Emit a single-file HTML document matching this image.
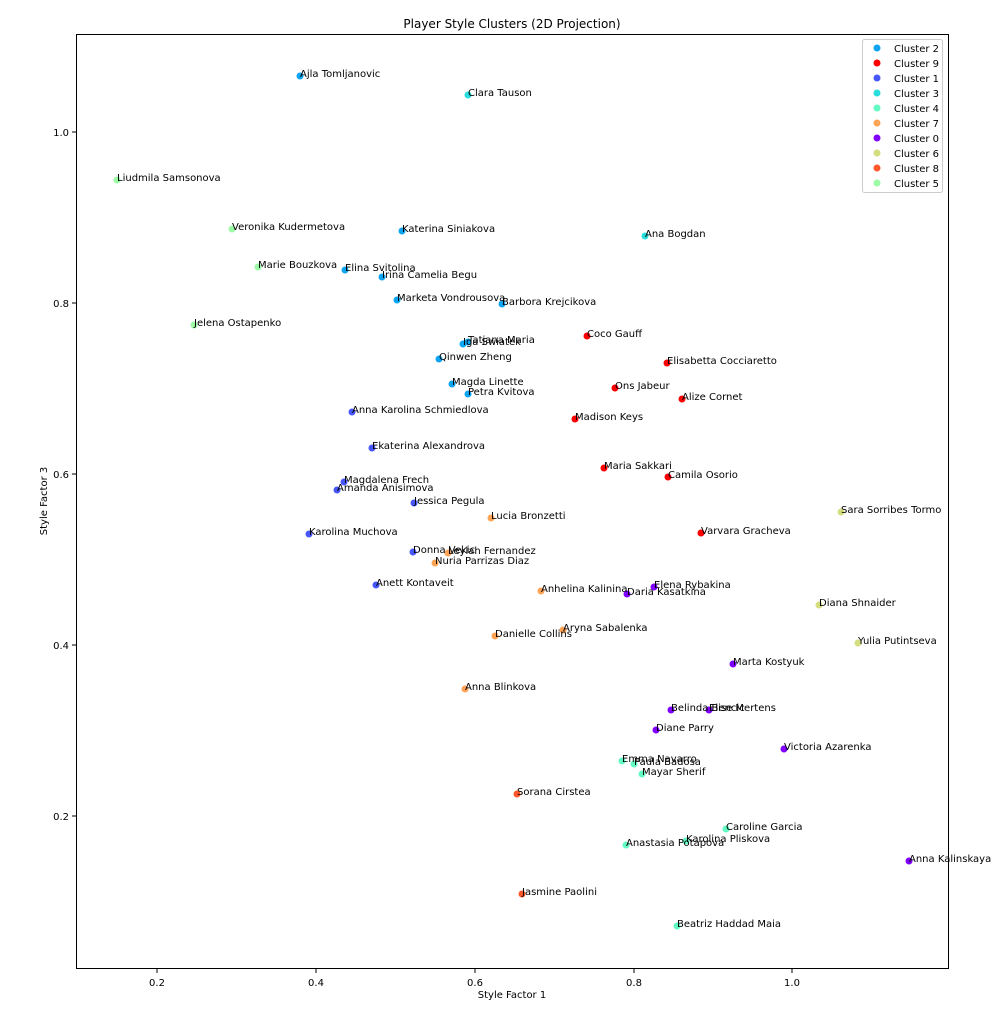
<!DOCTYPE html>
<html><head><meta charset="utf-8"><style>body{margin:0;background:#fff}svg text{font-family:"DejaVu Sans","Liberation Sans",sans-serif}</style></head><body>
<svg width="1000" height="1012" xmlns="http://www.w3.org/2000/svg">
<rect width="1000" height="1012" fill="#fff"/>
<text x="512" y="28" font-size="12" text-anchor="middle">Player Style Clusters (2D Projection)</text>
<rect x="76.5" y="34.5" width="872" height="934" fill="none" stroke="#000" stroke-width="1"/>
<g stroke="#000" stroke-width="1">
<line x1="157" y1="969" x2="157" y2="973"/><line x1="316" y1="969" x2="316" y2="973"/><line x1="475" y1="969" x2="475" y2="973"/><line x1="634" y1="969" x2="634" y2="973"/><line x1="792" y1="969" x2="792" y2="973"/>
<line x1="72" y1="132" x2="76" y2="132"/><line x1="72" y1="303" x2="76" y2="303"/><line x1="72" y1="474" x2="76" y2="474"/><line x1="72" y1="645" x2="76" y2="645"/><line x1="72" y1="816" x2="76" y2="816"/>
</g>
<g font-size="10" text-anchor="middle">
<text x="157" y="986">0.2</text><text x="316" y="986">0.4</text><text x="475" y="986">0.6</text><text x="634" y="986">0.8</text><text x="792" y="986">1.0</text>
<text x="512" y="998">Style Factor 1</text>
</g>
<g font-size="10" text-anchor="end">
<text x="69" y="136">1.0</text><text x="69" y="307">0.8</text><text x="69" y="478">0.6</text><text x="69" y="649">0.4</text><text x="69" y="820">0.2</text>
</g>
<text x="0" y="0" font-size="10" text-anchor="middle" transform="translate(47,501) rotate(-90)">Style Factor 3</text>
<g id="pts">
<circle cx="300" cy="76" r="3.5" fill="#0ea4f0"/>
<circle cx="468" cy="95" r="3.5" fill="#2adddd"/>
<circle cx="117" cy="180" r="3.5" fill="#9cfba4"/>
<circle cx="232" cy="229" r="3.5" fill="#9cfba4"/>
<circle cx="402" cy="231" r="3.5" fill="#0ea4f0"/>
<circle cx="645" cy="236" r="3.5" fill="#2adddd"/>
<circle cx="258" cy="267" r="3.5" fill="#9cfba4"/>
<circle cx="345" cy="270" r="3.5" fill="#0ea4f0"/>
<circle cx="382" cy="277" r="3.5" fill="#0ea4f0"/>
<circle cx="397" cy="300" r="3.5" fill="#0ea4f0"/>
<circle cx="502" cy="304" r="3.5" fill="#0ea4f0"/>
<circle cx="194" cy="325" r="3.5" fill="#9cfba4"/>
<circle cx="587" cy="336" r="3.5" fill="#ff0000"/>
<circle cx="468" cy="342" r="3.5" fill="#0ea4f0"/>
<circle cx="463" cy="344" r="3.5" fill="#0ea4f0"/>
<circle cx="439" cy="359" r="3.5" fill="#0ea4f0"/>
<circle cx="667" cy="363" r="3.5" fill="#ff0000"/>
<circle cx="452" cy="384" r="3.5" fill="#0ea4f0"/>
<circle cx="615" cy="388" r="3.5" fill="#ff0000"/>
<circle cx="468" cy="394" r="3.5" fill="#0ea4f0"/>
<circle cx="682" cy="399" r="3.5" fill="#ff0000"/>
<circle cx="352" cy="412" r="3.5" fill="#4757fb"/>
<circle cx="575" cy="419" r="3.5" fill="#ff0000"/>
<circle cx="372" cy="448" r="3.5" fill="#4757fb"/>
<circle cx="604" cy="468" r="3.5" fill="#ff0000"/>
<circle cx="668" cy="477" r="3.5" fill="#ff0000"/>
<circle cx="344" cy="482" r="3.5" fill="#4757fb"/>
<circle cx="337" cy="490" r="3.5" fill="#4757fb"/>
<circle cx="414" cy="503" r="3.5" fill="#4757fb"/>
<circle cx="841" cy="512" r="3.5" fill="#d4dd80"/>
<circle cx="491" cy="518" r="3.5" fill="#ffa457"/>
<circle cx="309" cy="534" r="3.5" fill="#4757fb"/>
<circle cx="701" cy="533" r="3.5" fill="#ff0000"/>
<circle cx="413" cy="552" r="3.5" fill="#4757fb"/>
<circle cx="448" cy="553" r="3.5" fill="#ffa457"/>
<circle cx="435" cy="563" r="3.5" fill="#ffa457"/>
<circle cx="376" cy="585" r="3.5" fill="#4757fb"/>
<circle cx="654" cy="587" r="3.5" fill="#8000ff"/>
<circle cx="541" cy="591" r="3.5" fill="#ffa457"/>
<circle cx="627" cy="594" r="3.5" fill="#8000ff"/>
<circle cx="819" cy="605" r="3.5" fill="#d4dd80"/>
<circle cx="563" cy="630" r="3.5" fill="#ffa457"/>
<circle cx="495" cy="636" r="3.5" fill="#ffa457"/>
<circle cx="858" cy="643" r="3.5" fill="#d4dd80"/>
<circle cx="733" cy="664" r="3.5" fill="#8000ff"/>
<circle cx="465" cy="689" r="3.5" fill="#ffa457"/>
<circle cx="671" cy="710" r="3.5" fill="#8000ff"/>
<circle cx="709" cy="710" r="3.5" fill="#8000ff"/>
<circle cx="656" cy="730" r="3.5" fill="#8000ff"/>
<circle cx="784" cy="749" r="3.5" fill="#8000ff"/>
<circle cx="622" cy="761" r="3.5" fill="#63fbc3"/>
<circle cx="634" cy="764" r="3.5" fill="#63fbc3"/>
<circle cx="642" cy="774" r="3.5" fill="#63fbc3"/>
<circle cx="517" cy="794" r="3.5" fill="#ff572c"/>
<circle cx="726" cy="829" r="3.5" fill="#63fbc3"/>
<circle cx="686" cy="841" r="3.5" fill="#63fbc3"/>
<circle cx="626" cy="845" r="3.5" fill="#63fbc3"/>
<circle cx="909" cy="861" r="3.5" fill="#8000ff"/>
<circle cx="522" cy="894" r="3.5" fill="#ff572c"/>
<circle cx="677" cy="926" r="3.5" fill="#63fbc3"/>
</g>
<g font-size="10">
<text x="300" y="77">Ajla Tomljanovic</text>
<text x="468" y="96">Clara Tauson</text>
<text x="117" y="181">Liudmila Samsonova</text>
<text x="232" y="230">Veronika Kudermetova</text>
<text x="402" y="232">Katerina Siniakova</text>
<text x="645" y="237">Ana Bogdan</text>
<text x="258" y="268">Marie Bouzkova</text>
<text x="345" y="271">Elina Svitolina</text>
<text x="382" y="278">Irina Camelia Begu</text>
<text x="397" y="301">Marketa Vondrousova</text>
<text x="502" y="305">Barbora Krejcikova</text>
<text x="194" y="326">Jelena Ostapenko</text>
<text x="587" y="337">Coco Gauff</text>
<text x="468" y="343">Tatjana Maria</text>
<text x="463" y="345">Iga Swiatek</text>
<text x="439" y="360">Qinwen Zheng</text>
<text x="667" y="364">Elisabetta Cocciaretto</text>
<text x="452" y="385">Magda Linette</text>
<text x="615" y="389">Ons Jabeur</text>
<text x="468" y="395">Petra Kvitova</text>
<text x="682" y="400">Alize Cornet</text>
<text x="352" y="413">Anna Karolina Schmiedlova</text>
<text x="575" y="420">Madison Keys</text>
<text x="372" y="449">Ekaterina Alexandrova</text>
<text x="604" y="469">Maria Sakkari</text>
<text x="668" y="478">Camila Osorio</text>
<text x="344" y="483">Magdalena Frech</text>
<text x="337" y="491">Amanda Anisimova</text>
<text x="414" y="504">Jessica Pegula</text>
<text x="841" y="513">Sara Sorribes Tormo</text>
<text x="491" y="519">Lucia Bronzetti</text>
<text x="309" y="535">Karolina Muchova</text>
<text x="701" y="534">Varvara Gracheva</text>
<text x="413" y="553">Donna Vekic</text>
<text x="448" y="554">Leylah Fernandez</text>
<text x="435" y="564">Nuria Parrizas Diaz</text>
<text x="376" y="586">Anett Kontaveit</text>
<text x="654" y="588">Elena Rybakina</text>
<text x="541" y="592">Anhelina Kalinina</text>
<text x="627" y="595">Daria Kasatkina</text>
<text x="819" y="606">Diana Shnaider</text>
<text x="563" y="631">Aryna Sabalenka</text>
<text x="495" y="637">Danielle Collins</text>
<text x="858" y="644">Yulia Putintseva</text>
<text x="733" y="665">Marta Kostyuk</text>
<text x="465" y="690">Anna Blinkova</text>
<text x="671" y="711">Belinda Bencic</text>
<text x="709" y="711">Elise Mertens</text>
<text x="656" y="731">Diane Parry</text>
<text x="784" y="750">Victoria Azarenka</text>
<text x="622" y="762">Emma Navarro</text>
<text x="634" y="765">Paula Badosa</text>
<text x="642" y="775">Mayar Sherif</text>
<text x="517" y="795">Sorana Cirstea</text>
<text x="726" y="830">Caroline Garcia</text>
<text x="686" y="842">Karolina Pliskova</text>
<text x="626" y="846">Anastasia Potapova</text>
<text x="909" y="862">Anna Kalinskaya</text>
<text x="522" y="895">Jasmine Paolini</text>
<text x="677" y="927">Beatriz Haddad Maia</text>
</g>
<rect x="862.5" y="39.5" width="80" height="153" rx="2" fill="#fff" fill-opacity="0.8" stroke="#ccc"/>
<g font-size="10">
<circle cx="877" cy="48" r="3.5" fill="#0ea4f0"/><text x="894" y="52">Cluster 2</text>
<circle cx="877" cy="63" r="3.5" fill="#ff0000"/><text x="894" y="67">Cluster 9</text>
<circle cx="877" cy="78" r="3.5" fill="#4757fb"/><text x="894" y="82">Cluster 1</text>
<circle cx="877" cy="93" r="3.5" fill="#2adddd"/><text x="894" y="97">Cluster 3</text>
<circle cx="877" cy="108" r="3.5" fill="#63fbc3"/><text x="894" y="112">Cluster 4</text>
<circle cx="877" cy="123" r="3.5" fill="#ffa457"/><text x="894" y="127">Cluster 7</text>
<circle cx="877" cy="138" r="3.5" fill="#8000ff"/><text x="894" y="142">Cluster 0</text>
<circle cx="877" cy="153" r="3.5" fill="#d4dd80"/><text x="894" y="157">Cluster 6</text>
<circle cx="877" cy="168" r="3.5" fill="#ff572c"/><text x="894" y="172">Cluster 8</text>
<circle cx="877" cy="183" r="3.5" fill="#9cfba4"/><text x="894" y="187">Cluster 5</text>
</g>
</svg>
</body></html>
